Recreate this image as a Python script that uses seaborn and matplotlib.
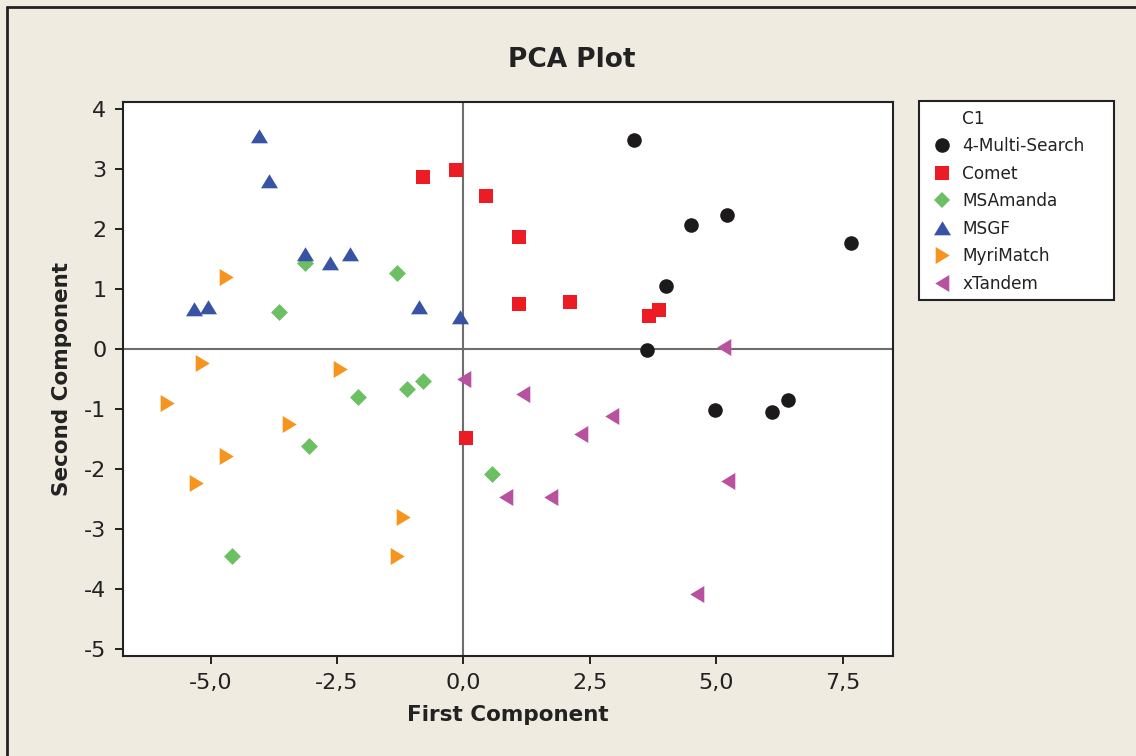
import numpy as np
import pandas as pd
import matplotlib
matplotlib.use("Agg")
import matplotlib.pyplot as plt
from matplotlib.path import Path
from matplotlib.lines import Line2D
from matplotlib.patches import Rectangle
from matplotlib.ticker import FuncFormatter, FixedLocator
import seaborn as sns

# ---- data ----
groups = ["4-Multi-Search", "Comet", "MSAmanda", "MSGF", "MyriMatch", "xTandem"]

multi_x = [3.37, 4.50, 5.21, 7.66, 4.00, 3.63, 4.97, 6.10, 6.41]
multi_y = [3.48, 2.07, 2.23, 1.77, 1.05, -0.02, -1.02, -1.05, -0.85]

comet_x = [-0.80, -0.15, 0.44, 1.10, 1.10, 2.10, 3.67, 3.86, 0.05]
comet_y = [2.87, 2.98, 2.55, 1.87, 0.75, 0.78, 0.55, 0.65, -1.48]

msamanda_x = [-3.13, -3.64, -1.31, -0.80, -1.12, -2.08, -3.05, -4.58, 0.56]
msamanda_y = [1.43, 0.62, 1.27, -0.53, -0.67, -0.80, -1.62, -3.45, -2.08]

msgf_x = [-4.04, -3.84, -3.13, -2.64, -2.24, -5.32, -5.05, -0.88, -0.07]
msgf_y = [3.55, 2.80, 1.58, 1.43, 1.58, 0.67, 0.70, 0.70, 0.53]

myri_x = [-4.70, -5.17, -2.44, -5.86, -3.45, -4.69, -5.29, -1.20, -1.31]
myri_y = [1.20, -0.23, -0.33, -0.90, -1.25, -1.78, -2.23, -2.80, -3.45]

xtandem_x = [5.15, 0.01, 1.18, 2.93, 2.32, 0.84, 1.73, 5.23, 4.61]
xtandem_y = [0.03, -0.50, -0.75, -1.12, -1.42, -2.47, -2.47, -2.20, -4.08]

x_ticks = [-5.0, -2.5, 0.0, 2.5, 5.0, 7.5]
y_ticks = [-5, -4, -3, -2, -1, 0, 1, 2, 3, 4]

all_x = [multi_x, comet_x, msamanda_x, msgf_x, myri_x, xtandem_x]
all_y = [multi_y, comet_y, msamanda_y, msgf_y, myri_y, xtandem_y]

df = pd.DataFrame({
    "First Component": np.concatenate(all_x),
    "Second Component": np.concatenate(all_y),
    "C1": np.repeat(groups, [len(a) for a in all_x]),
})

# ---- styles ----
colors = {
    "4-Multi-Search": "#1c1a1b",
    "Comet": "#ed1c24",
    "MSAmanda": "#6cbf63",
    "MSGF": "#3953a4",
    "MyriMatch": "#f7941d",
    "xTandem": "#b8519e",
}
tri_up = Path([(-1, -0.8), (1, -0.8), (0, 0.85), (-1, -0.8)],
              [Path.MOVETO, Path.LINETO, Path.LINETO, Path.CLOSEPOLY])
tri_right = Path([(-0.8, -1), (-0.8, 1), (0.85, 0), (-0.8, -1)],
                 [Path.MOVETO, Path.LINETO, Path.LINETO, Path.CLOSEPOLY])
tri_left = Path([(0.8, -1), (0.8, 1), (-0.85, 0), (0.8, -1)],
                [Path.MOVETO, Path.LINETO, Path.LINETO, Path.CLOSEPOLY])
markers = {
    "4-Multi-Search": "o",
    "Comet": "s",
    "MSAmanda": "D",
    "MSGF": tri_up,
    "MyriMatch": tri_right,
    "xTandem": tri_left,
}
sizes = {"4-Multi-Search": 110, "Comet": 95, "MSAmanda": 74,
         "MSGF": 150, "MyriMatch": 150, "xTandem": 150}

bg = "#efebe1"
sns.set_style("white")
plt.rcParams["font.family"] = ["DejaVu Sans"]

fig = plt.figure(figsize=(11.36, 7.56), dpi=100, facecolor=bg)
W, H = 1136, 756
ax = fig.add_axes([123 / W, 1 - 656 / H, (893 - 123) / W, (656 - 102) / H])
ax.set_facecolor("white")

ax.axvline(0, color="#6e6e6e", lw=1.5, zorder=1)
ax.axhline(0, color="#6e6e6e", lw=1.5, zorder=1)

for g in groups:
    sub = df[df["C1"] == g]
    sns.scatterplot(data=sub, x="First Component", y="Second Component",
                    color=colors[g], marker=markers[g], s=sizes[g],
                    linewidth=0, ax=ax, zorder=3, legend=False)

ax.set_xlim(-6.73, 8.49)
ax.set_ylim(-5.12, 4.12)
ax.xaxis.set_major_locator(FixedLocator(x_ticks))
ax.yaxis.set_major_locator(FixedLocator(y_ticks))
ax.xaxis.set_major_formatter(FuncFormatter(lambda v, p: f"{v:.1f}".replace(".", ",")))
ax.yaxis.set_major_formatter(FuncFormatter(lambda v, p: f"{int(round(v))}"))
ax.tick_params(axis="both", direction="out", length=6, width=1.4,
               color="#222222", labelsize=16, labelcolor="#222222", pad=6,
               bottom=True, left=True)
for sp in ax.spines.values():
    sp.set_color("#222222")
    sp.set_linewidth(1.5)

ax.set_xlabel("First Component", fontsize=15.5, fontweight="bold", color="#222222")
ax.set_ylabel("Second Component", fontsize=15.5, fontweight="bold", color="#222222")
ax.xaxis.set_label_coords(0.5, -0.088)
ax.yaxis.set_label_coords(-0.066, 0.5)

fig.text(572 / W, 1 - 60 / H, "PCA Plot", ha="center", va="center",
         fontsize=19, fontweight="bold", color="#222222")

# legend frame (drawn as a box of fixed size)
fig.add_artist(Rectangle((919 / W, 1 - 300 / H), (1114 - 919) / W, (300 - 101) / H,
                         transform=fig.transFigure, facecolor="white",
                         edgecolor="#222222", lw=1.5, zorder=2))
handles = [Line2D([], [], linestyle="none")]
labels = ["C1"]
for g in groups:
    handles.append(Line2D([], [], linestyle="none", marker=markers[g],
                          markersize=np.sqrt(sizes[g]), markerfacecolor=colors[g],
                          markeredgewidth=0))
    labels.append(g)
leg = fig.legend(handles, labels, loc="upper left",
                 bbox_to_anchor=(920 / W, 1 - 98 / H), frameon=False,
                 fontsize=12.2, labelspacing=0.56, handlelength=1.2,
                 handletextpad=0.6, borderpad=0.7, borderaxespad=0,
                 labelcolor="#222222")
leg.set_zorder(3)

# figure border (left and top visible)
fig.add_artist(Line2D([7 / W, 7 / W], [0, 1 - 7 / H], transform=fig.transFigure,
                      color="#222222", lw=2))
fig.add_artist(Line2D([7 / W, 1], [1 - 7 / H, 1 - 7 / H], transform=fig.transFigure,
                      color="#222222", lw=2))

fig.savefig("out.png", dpi=100, facecolor=bg)
